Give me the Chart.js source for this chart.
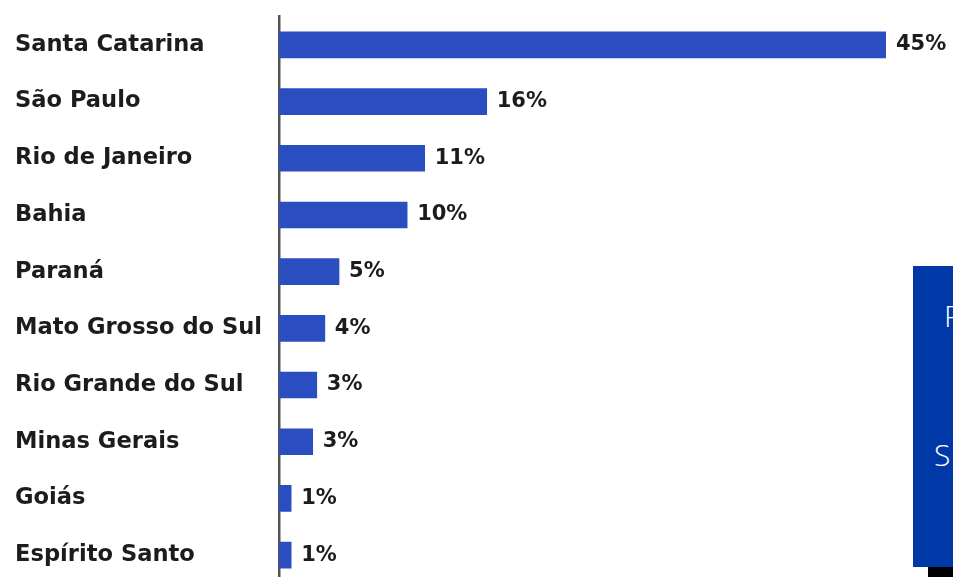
<!DOCTYPE html>
<html lang="pt">
  <head>
    <meta charset="UTF-8">
    <title>Estados</title>
    <script src="https://cdn.jsdelivr.net/npm/chart.js@4.4.7/dist/chart.umd.min.js"></script>
    <style>
    html, body {
      margin: 0;
      padding: 0;
      width: 953px;
      height: 577px;
      overflow: hidden;
      background: #fff;
    }
    #wrap {
      position: relative;
      width: 953px;
      height: 600px;
    }
    #panel {
      position: absolute;
      left: 913px;
      top: 266px;
      width: 60px;
      height: 301px;
      background: #0038a8;
      color: #fff;
      font-family: "Open Sans", sans-serif;
      font-weight: 300;
      font-size: 30px;
      overflow: hidden;
    }
    #panel span {
      position: absolute;
      white-space: nowrap;
    }
    #foot {
      position: absolute;
      left: 928px;
      top: 567px;
      width: 30px;
      height: 12px;
      background: #000;
    }
    </style>
  </head>
  <body>
    <div id="wrap">
      <canvas id="chart" width="953" height="600"></canvas>
      <div id="panel"><span style="left:31px;top:29px">P</span><span style="left:21px;top:168px">S</span></div>
      <div id="foot"></div>
    </div>
    <script>
    const states = ['Santa Catarina', 'São Paulo', 'Rio de Janeiro', 'Bahia', 'Paraná',
      'Mato Grosso do Sul', 'Rio Grande do Sul', 'Minas Gerais', 'Goiás', 'Espírito Santo'];
    const shares = [45, 15.4, 10.8, 9.5, 4.45, 3.4, 2.8, 2.5, 0.9, 0.9];
    const shareLabels = ['45%', '16%', '11%', '10%', '5%', '4%', '3%', '3%', '1%', '1%'];

    const fontFamily = '"DejaVu Sans", sans-serif';

    const valueLabels = {
      id: 'valueLabels',
      afterDatasetsDraw(chart) {
        const ctx = chart.ctx;
        const meta = chart.getDatasetMeta(0);
        ctx.save();
        ctx.font = 'bold 21px ' + fontFamily;
        ctx.fillStyle = '#1c1c1c';
        ctx.textBaseline = 'middle';
        meta.data.forEach((bar, i) => {
          ctx.fillText(shareLabels[i], bar.x + 10, bar.y);
        });
        ctx.restore();
      }
    };

    new Chart(document.getElementById('chart'), {
      type: 'bar',
      data: {
        labels: states,
        datasets: [{
          data: shares,
          backgroundColor: '#2a4ec0',
          barThickness: 26
        }]
      },
      options: {
        indexAxis: 'y',
        responsive: false,
        animation: false,
        layout: {
          padding: { left: 15, right: 67, top: 13, bottom: 4 }
        },
        plugins: {
          legend: { display: false },
          tooltip: { enabled: false }
        },
        scales: {
          x: {
            display: false,
            min: 0,
            max: 45
          },
          y: {
            afterFit(axis) { axis.width = 264; },
            grid: { display: false },
            border: { display: true, color: '#555', width: 2.5 },
            ticks: {
              crossAlign: 'far',
              color: '#1c1c1c',
              font: { family: fontFamily, size: 22.6, weight: 'bold' }
            }
          }
        }
      },
      plugins: [valueLabels]
    });
    </script>
  </body>
</html>
